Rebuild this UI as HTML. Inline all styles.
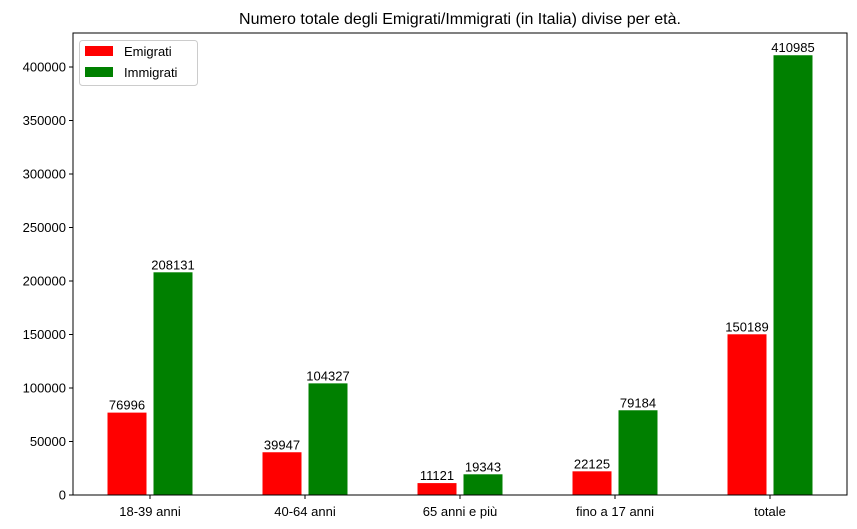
<!DOCTYPE html>
<html><head><meta charset="utf-8"><style>
html,body{margin:0;padding:0;background:#fff;overflow:hidden;font-family:"Liberation Sans",sans-serif;}
svg{display:block;}
svg text{font-family:"Liberation Sans",sans-serif;}
</style></head><body>
<svg id="chart" width="857" height="529" xmlns="http://www.w3.org/2000/svg"></svg>
<script>
const categories=["18-39 anni","40-64 anni","65 anni e più","fino a 17 anni","totale"];
const emigrati=[76996,39947,11121,22125,150189];
const immigrati=[208131,104327,19343,79184,410985];
const yTicks=[0,50000,100000,150000,200000,250000,300000,350000,400000];
const svg=document.getElementById('chart');
const NS='http://www.w3.org/2000/svg';
const L=73,R=847,T=33,B=495;
function y(v){return B-v*(428/400000);}
function x(i){return 150+i*155;}
function mk(t,a,txt){const e=document.createElementNS(NS,t);for(const k in a)e.setAttribute(k,a[k]);if(txt!==undefined)e.textContent=txt;svg.appendChild(e);return e;}
const title=mk('text',{x:460,y:24,'text-anchor':'middle','font-size':16,fill:'#000'},'Numero totale degli Emigrati/Immigrati (in Italia) divise per età.');


const bw=39;
categories.forEach((c,i)=>{
  const xr=x(i)-23-bw/2, xg=x(i)+23-bw/2;
  const r=mk('rect',{x:xr,y:y(emigrati[i]),width:bw,height:B-y(emigrati[i]),fill:'#ff0000'});
  
  
  const g=mk('rect',{x:xg,y:y(immigrati[i]),width:bw,height:B-y(immigrati[i]),fill:'#008000'});
  
  
  const lr=mk('text',{x:xr+bw/2,y:y(emigrati[i])-3,'text-anchor':'middle','font-size':13},String(emigrati[i]));
  
  
  const lg=mk('text',{x:xg+bw/2,y:y(immigrati[i])-3,'text-anchor':'middle','font-size':13},String(immigrati[i]));
  
  
  mk('line',{x1:x(i),x2:x(i),y1:B,y2:B+4,stroke:'#000'});
  const tl=mk('text',{x:x(i),y:B+21,'text-anchor':'middle','font-size':13},c);
  
  
});
yTicks.forEach(v=>{
  mk('line',{x1:L-4,x2:L,y1:y(v),y2:y(v),stroke:'#000'});
  const t=mk('text',{x:L-7,y:y(v)+4.5,'text-anchor':'end','font-size':13},String(v));
  
  
});
const frame=mk('rect',{x:L,y:T,width:R-L,height:B-T,fill:'none',stroke:'#000','stroke-width':1});


const lb=mk('rect',{x:79.5,y:40.5,width:118,height:45,rx:3,fill:'#fff','fill-opacity':0.8,stroke:'#ccc'});


[['Emigrati','#ff0000'],['Immigrati','#008000']].forEach((e,k)=>{
  mk('rect',{x:85,y:46+k*21,width:28,height:10,fill:e[1]});
  const t=mk('text',{x:124,y:56+k*21,'font-size':13},e[0]);
  
  
});
</script>
</body></html>
